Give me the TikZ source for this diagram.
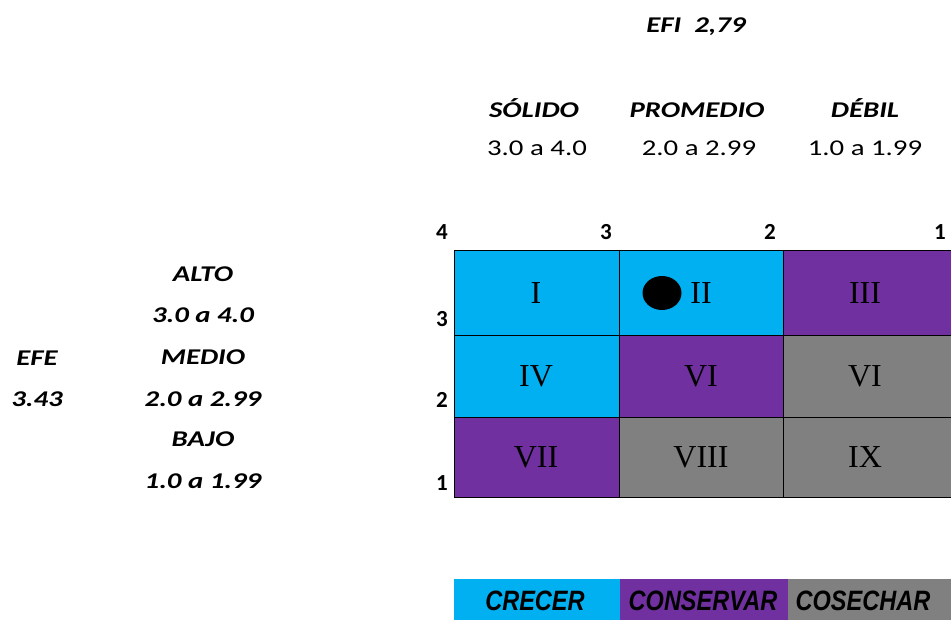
\documentclass[tikz,border=0pt]{standalone}
\usepackage{fontspec}
\setmainfont{Carlito}
\newfontfamily\legfont{Liberation Sans}
\newfontfamily\romfont{Liberation Serif}
\usetikzlibrary{shapes.geometric}
\definecolor{crec}{HTML}{00B0F0}
\definecolor{cons}{HTML}{7030A0}
\definecolor{cose}{HTML}{808080}
\newcommand{\hstr}[1]{\scalebox{1.28}[1]{#1}}
\newcommand{\hleg}[1]{\scalebox{0.84}[1]{#1}}
\begin{document}
\begin{tikzpicture}[x=1pt,y=-1pt,
  lbl/.style={inner sep=0pt, text height=14.5pt, text depth=0pt, font=\fontsize{22.5}{26}\selectfont},
  hdr/.style={lbl, font=\fontsize{22.5}{26}\selectfont\bfseries\itshape},
  num/.style={lbl, font=\fontsize{22.5}{26}\selectfont},
  axnum/.style={lbl, font=\fontsize{23}{26}\selectfont\bfseries},
  cell/.style={draw=black, line width=1.3pt, inner sep=0pt, anchor=north west},
  roman/.style={inner sep=0pt, text height=21pt, text depth=0pt, font=\romfont\fontsize{32}{34}\selectfont},
  legbox/.style={inner sep=0pt, anchor=north west, minimum height=45pt},
  legtxt/.style={inner sep=0pt, text height=20pt, text depth=0pt, font=\legfont\fontsize{28}{30}\selectfont\bfseries\itshape}
]
\useasboundingbox (0,0) rectangle (951,619);
\clip (0,0) rectangle (951,619);

% top header
\node[hdr] (efi) at (696,25) {\hstr{EFI\ \ 2,79}};
\node[hdr] (solido) at (534,110) {\hstr{SÓLIDO}};
\node[hdr] (promedio) at (697,110) {\hstr{PROMEDIO}};
\node[hdr] (debil) at (865,110) {\hstr{DÉBIL}};
\node[num] (r1) at (537,148) {\hstr{3.0 a 4.0}};
\node[num] (r2) at (699,148) {\hstr{2.0 a 2.99}};
\node[num] (r3) at (865,148) {\hstr{1.0 a 1.99}};

% left labels
\node[hdr] (alto) at (203,274) {\hstr{ALTO}};
\node[hdr] (l1) at (203,315) {\hstr{3.0 a 4.0}};
\node[hdr] (medio) at (203,357) {\hstr{MEDIO}};
\node[hdr] (l2) at (203,399) {\hstr{2.0 a 2.99}};
\node[hdr] (bajo) at (203,439) {\hstr{BAJO}};
\node[hdr] (l3) at (203,481) {\hstr{1.0 a 1.99}};
\node[hdr] (efe) at (37,358) {\hstr{EFE}};
\node[hdr] (efev) at (37,399) {\hstr{3.43}};

% axis numbers
\node[axnum] (x4) at (442,232) {4};
\node[axnum] (x3) at (606,232) {3};
\node[axnum] (x2) at (770,232) {2};
\node[axnum] (x1) at (940,232) {1};
\node[axnum] (y3) at (442,319) {3};
\node[axnum] (y2) at (442,400) {2};
\node[axnum] (y1) at (442,483) {1};

% grid cells
\node[cell, fill=crec, minimum width=165pt, minimum height=85pt] (c11) at (454,250) {};
\node[cell, fill=crec, minimum width=164pt, minimum height=85pt] (c12) at (619,250) {};
\node[cell, fill=cons, minimum width=180pt, minimum height=85pt] (c13) at (783,250) {};
\node[cell, fill=crec, minimum width=165pt, minimum height=82pt] (c21) at (454,335) {};
\node[cell, fill=cons, minimum width=164pt, minimum height=82pt] (c22) at (619,335) {};
\node[cell, fill=cose, minimum width=180pt, minimum height=82pt] (c23) at (783,335) {};
\node[cell, fill=cons, minimum width=165pt, minimum height=80pt] (c31) at (454,417) {};
\node[cell, fill=cose, minimum width=164pt, minimum height=80pt] (c32) at (619,417) {};
\node[cell, fill=cose, minimum width=180pt, minimum height=80pt] (c33) at (783,417) {};

% roman numerals
\node[roman] (n1) at (536,293) {I};
\node[roman] (n2) at (701,293) {II};
\node[roman] (n3) at (865,293) {III};
\node[roman] (n4) at (536,376) {IV};
\node[roman] (n5) at (701,376) {VI};
\node[roman] (n6) at (865,376) {VI};
\node[roman] (n7) at (536,457) {VII};
\node[roman] (n8) at (701,457) {VIII};
\node[roman] (n9) at (865,457) {IX};

% position dot
\node[ellipse, fill=black, inner sep=0pt, minimum width=39pt, minimum height=34pt] (dot) at (662,293) {};

% legend
\node[legbox, fill=crec, minimum width=166pt] (lg1) at (454,579) {};
\node[legbox, fill=cons, minimum width=168pt] (lg2) at (620,579) {};
\node[legbox, fill=cose, minimum width=170pt] (lg3) at (788,579) {};
\node[legtxt] (t1) at (535,600) {\hleg{CRECER}};
\node[legtxt] (t2) at (703,600) {\hleg{CONSERVAR}};
\node[legtxt] (t3) at (863,600) {\hleg{COSECHAR}};
\end{tikzpicture}
\end{document}
